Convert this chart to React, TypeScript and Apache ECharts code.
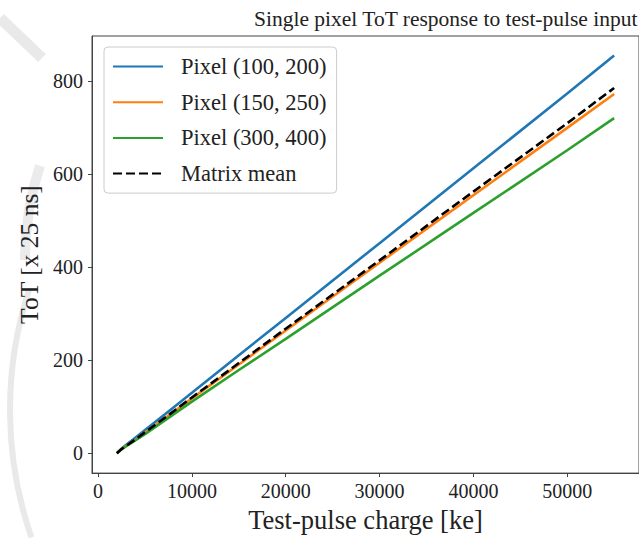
import React, { useEffect, useRef } from "react";
import * as echarts from "echarts";

// Test-pulse charge [ke]
const charges = [2000, 2500, 3000, 4000, 5000, 7500, 10000, 15000, 20000, 30000, 40000, 50000, 55000];
// ToT [x 25 ns]
const pixel100_200 = [0, 10, 18, 34, 50, 90, 130, 211, 291, 452, 613, 774, 856];
const pixel150_250 = [0, 9, 16, 29, 44, 81, 118, 191, 264, 410, 555, 700, 773];
const pixel300_400 = [0, 8, 15, 28, 41, 76, 111, 179, 246, 382, 517, 652, 721];
const matrixMean = [0, 9, 16, 30, 45, 82, 120, 194, 268, 415, 563, 710, 786];

const seriesNames = ["Pixel (100, 200)", "Pixel (150, 250)", "Pixel (300, 400)", "Matrix mean"];
const xTicks = [0, 10000, 20000, 30000, 40000, 50000];
const yTicks = [0, 200, 400, 600, 800];

const FONT = "'Liberation Serif', 'DejaVu Serif', serif";

export default function App() {
  const ref = useRef<HTMLDivElement>(null);
  useEffect(() => {
    if (!ref.current) return;
    const chart = echarts.init(ref.current, undefined, { renderer: "svg" });
    const pairs = (ys: number[]) => charges.map((x, i) => [x, ys[i]]);
    const mk = (name: string, ys: number[], color: string, dashed = false) => ({
      name,
      type: "line",
      data: pairs(ys),
      symbol: "none",
      showSymbol: false,
      lineStyle: { color, width: 2.6, type: dashed ? [9, 4] : "solid" },
      itemStyle: { color, opacity: 0 },
      z: dashed ? 5 : 3,
    });
    chart.setOption({
      animation: false,
      backgroundColor: "#ffffff",
      title: {
        text: "Single pixel ToT response to test-pulse input",
        left: 249,
        top: 3,
        textStyle: { fontFamily: FONT, fontSize: 21.5, fontWeight: "normal", color: "#222" },
      },
      graphic: [
        {
          type: "arc",
          shape: { cx: 400, cy: 410, r: 390, startAngle: Math.PI * 0.894, endAngle: Math.PI * 1.1 },
          style: { stroke: "#e9e9e9", lineWidth: 6, fill: "none" },
          z: -10,
        },
        {
          type: "arc",
          shape: { cx: 330, cy: 260, r: 305, startAngle: Math.PI * 1.0, endAngle: Math.PI * 1.1 },
          style: { stroke: "#ebebeb", lineWidth: 10, fill: "none" },
          z: -10,
        },
        {
          type: "line",
          shape: { x1: 0, y1: 18, x2: 42, y2: 58 },
          style: { stroke: "#e9e9e9", lineWidth: 11 },
          z: -10,
        },
      ],
      legend: {
        orient: "vertical",
        left: 104,
        top: 47,
        padding: [8, 10, 8, 8],
        itemGap: 12.7,
        itemWidth: 50,
        itemHeight: 14,
        backgroundColor: "rgba(255,255,255,0.85)",
        borderColor: "#cccccc",
        borderWidth: 1,
        borderRadius: 4,
        data: seriesNames,
        itemStyle: { opacity: 0 },
        textStyle: { fontFamily: FONT, fontSize: 22.5, color: "#222", lineHeight: 21, padding: [0, 0, 0, 13] },
      },
      grid: {
        left: 92,
        top: 36,
        right: -12,
        bottom: 63,
        show: true,
        borderColor: "#444",
        borderWidth: 1,
        backgroundColor: "transparent",
      },
      xAxis: {
        type: "value",
        min: -650,
        max: 57650,
        name: "Test-pulse charge [ke]",
        nameLocation: "middle",
        nameGap: 31,
        nameTextStyle: { fontFamily: FONT, fontSize: 26.5, color: "#222" },
        axisLine: { show: true, onZero: false, lineStyle: { color: "#444", width: 1 } },
        axisTick: { show: true, length: 4, inside: false, customValues: xTicks, lineStyle: { color: "#444" } },
        axisLabel: {
          customValues: xTicks,
          formatter: (v: number) => String(v),
          fontFamily: FONT,
          fontSize: 20,
          color: "#222",
          margin: 8,
        },
        splitLine: { show: false },
      },
      yAxis: {
        type: "value",
        min: -42.75,
        max: 897.75,
        name: "ToT [x 25 ns]",
        nameLocation: "middle",
        nameGap: 46,
        nameTextStyle: { fontFamily: FONT, fontSize: 25.5, color: "#222" },
        axisLine: { show: true, onZero: false, lineStyle: { color: "#444", width: 1 } },
        axisTick: { show: true, length: 4, inside: false, customValues: yTicks, lineStyle: { color: "#444" } },
        axisLabel: {
          customValues: yTicks,
          formatter: (v: number) => String(v),
          fontFamily: FONT,
          fontSize: 20,
          color: "#222",
          margin: 9,
        },
        splitLine: { show: false },
      },
      series: [
        mk(seriesNames[0], pixel100_200, "#1f77b4"),
        mk(seriesNames[1], pixel150_250, "#ff7f0e"),
        mk(seriesNames[2], pixel300_400, "#2ca02c"),
        mk(seriesNames[3], matrixMean, "#000000", true),
      ],
    });
    return () => chart.dispose();
  }, []);
  return (
    <div
      ref={ref}
      style={{ position: "fixed", left: 0, top: 0, width: 639, height: 538, background: "#fff" }}
    />
  );
}
